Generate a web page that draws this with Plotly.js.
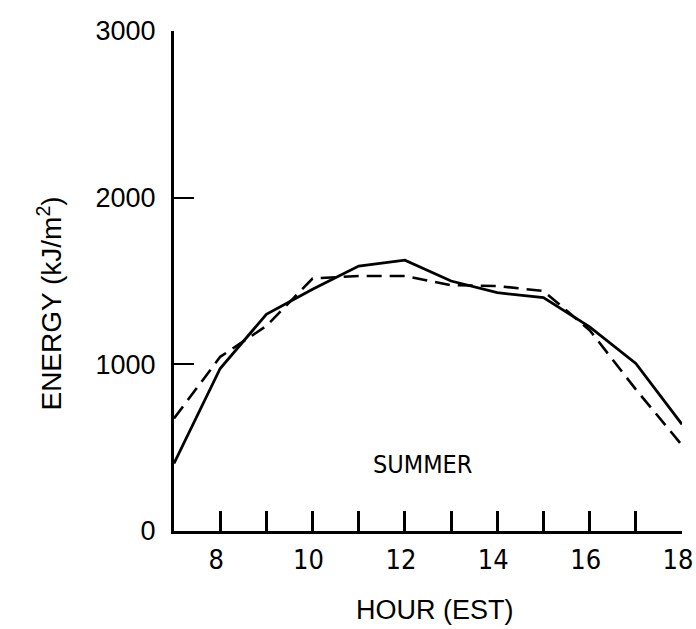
<!DOCTYPE html>
<html>
<head>
<meta charset="utf-8">
<script src="https://cdn.plot.ly/plotly-3.0.1.min.js"></script>
<style>
  html, body { margin: 0; padding: 0; background: #fff; }
  #chart { width: 696px; height: 629px; }
</style>
</head>
<body>
<div id="chart"></div>
<script>
// Hour of day (EST)
const hours = [7, 8, 9, 10, 11, 12, 13, 14, 15, 16, 17, 18];
// Energy (kJ/m^2), solid curve
const solidEnergy = [405, 975, 1300, 1450, 1590, 1625, 1500, 1430, 1400, 1225, 1005, 640];
// Energy (kJ/m^2), dashed curve
const dashedEnergy = [675, 1045, 1230, 1515, 1530, 1530, 1475, 1470, 1440, 1205, 850, 515];

// Labelled hour ticks and unlabelled hour ticks
const xTickVals = [8, 10, 12, 14, 16, 18];
const xTickText = ["8", "10", "12", "14", "16", "18"];
const xMinorTickVals = [9, 11, 13, 15, 17];
const yTickVals = [0, 1000, 2000, 3000];
const yTickText = ["0", "1000", "2000", "3000"];

const narrow = "Liberation Sans Narrow, DejaVu Sans Condensed, Arial Narrow, sans-serif";
const regular = "Liberation Sans, Arial, sans-serif";

const traces = [
  {
    x: hours, y: solidEnergy, type: "scatter", mode: "lines",
    line: { color: "#000", width: 2.8 }, name: "solid", hoverinfo: "x+y"
  },
  {
    x: hours, y: dashedEnergy, type: "scatter", mode: "lines",
    line: { color: "#000", width: 2.6, dash: "15px,8px" }, name: "dashed", hoverinfo: "x+y"
  }
];

const layout = {
  width: 696, height: 629,
  margin: { l: 174, r: 14, t: 31, b: 98, pad: 0 },
  paper_bgcolor: "#fff", plot_bgcolor: "#fff",
  showlegend: false,
  font: { family: regular, color: "#000" },
  xaxis: {
    range: [7, 18],
    showgrid: false, zeroline: false,
    showline: true, linecolor: "#000", linewidth: 3,
    ticks: "inside", ticklen: 20, tickwidth: 3, tickcolor: "#000",
    tickmode: "array", tickvals: xTickVals, ticktext: xTickText,
    minor: {
      tickmode: "array", tickvals: xMinorTickVals,
      ticks: "inside", ticklen: 20, tickwidth: 3, tickcolor: "#000", showgrid: false
    },
    tickfont: { family: narrow, size: 27, color: "#000" },
    ticklabelstandoff: 3,
    ticklabelshift: -4,
    ticklabeloverflow: "allow",
    fixedrange: true
  },
  yaxis: {
    range: [0, 3000],
    showgrid: false, zeroline: false,
    showline: true, linecolor: "#000", linewidth: 3,
    ticks: "inside", ticklen: 20, tickwidth: 2, tickcolor: "#000",
    tickmode: "array", tickvals: yTickVals, ticktext: yTickText,
    tickfont: { family: regular, size: 27, color: "#000" },
    ticklabelstandoff: 10,
    ticklabeloverflow: "allow",
    fixedrange: true
  },
  annotations: [
    {
      text: "SUMMER", xref: "x", yref: "y", x: 12.37, y: 400,
      showarrow: false, xanchor: "center", yanchor: "middle",
      font: { family: narrow, size: 25, color: "#000" }
    },
    {
      text: "HOUR (EST)", xref: "paper", yref: "paper",
      x: 0.514, y: -0.158, xanchor: "center", yanchor: "middle",
      showarrow: false,
      font: { family: regular, size: 27, color: "#000" }
    },
    {
      text: "ENERGY (kJ/m<sup>2</sup>)", xref: "paper", yref: "paper",
      x: -0.245, y: 0.454, xanchor: "center", yanchor: "middle",
      textangle: -90, showarrow: false,
      font: { family: regular, size: 28, color: "#000" }
    }
  ]
};

Plotly.newPlot("chart", traces, layout, { displayModeBar: false, staticPlot: true });
</script>
</body>
</html>
